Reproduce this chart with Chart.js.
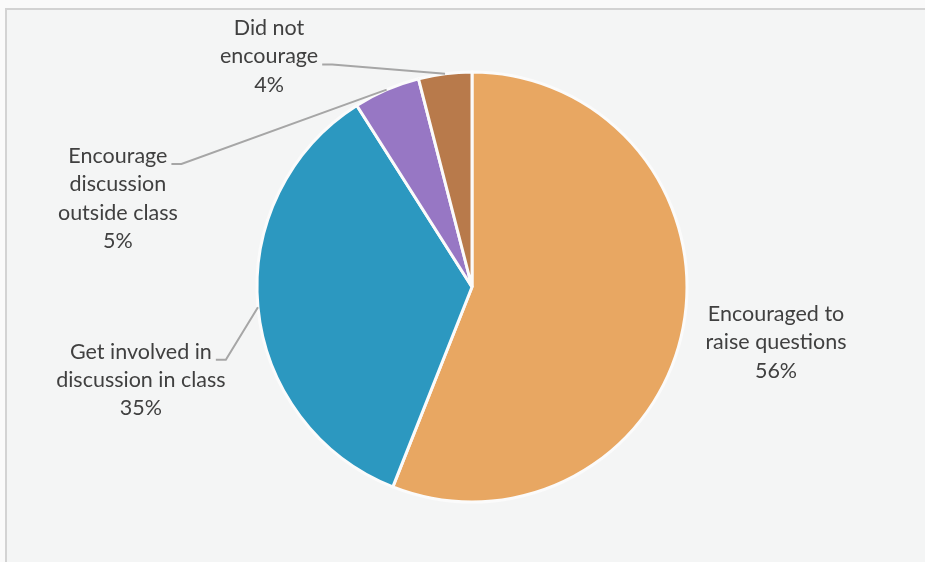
<!DOCTYPE html>
<html><head><meta charset="utf-8">
<script src="https://cdn.jsdelivr.net/npm/chart.js@4.4.1/dist/chart.umd.min.js"></script>
<style>
html,body{margin:0;padding:0;background:#fafafa;overflow:hidden;}
#frame{position:absolute;left:5px;top:8px;width:930px;height:570px;border-left:2px solid #d3d3d3;border-top:2px solid #d3d3d3;background:#f4f5f5;}
#wrap{position:absolute;left:0;top:0;width:925px;height:562px;}
</style></head><body>
<div id="frame"></div>
<div id="wrap"><canvas id="c" width="925" height="562"></canvas></div>
<script>
// Data
const categories = ["Encouraged to raise questions", "Get involved in discussion in class", "Encourage discussion outside class", "Did not encourage"];
const labelLines = [["Encouraged to", "raise questions"], ["Get involved in", "discussion in class"], ["Encourage", "discussion", "outside class"], ["Did not", "encourage"]];
const values = [56, 35, 5, 4];
const percentLabels = ["56%", "35%", "5%", "4%"];
const colors = ["#E8A762", "#2C98C0", "#9777C4", "#B87A4B"];

// Label placement (relative to pie center, in units of the radius)
const labelPlacement = [
  { dx: 1.414, dy: 0.258, leaderLine: -1 },
  { dx: -1.54, dy: 0.433, leaderLine: 0 },
  { dx: -1.647, dy: -0.412, leaderLine: 0 },
  { dx: -0.944, dy: -1.072, leaderLine: 1 }
];

const FONT = '21.5px Lato, "Open Sans", sans-serif';
const LINE_H = 28.3;

const labelPlugin = {
  id: 'outLabels',
  afterDatasetsDraw(chart) {
    const ctx = chart.ctx;
    const meta = chart.getDatasetMeta(0);
    ctx.save();
    ctx.font = FONT;
    ctx.textAlign = 'center';
    ctx.textBaseline = 'middle';
    meta.data.forEach((arc, i) => {
      const p = arc.getProps(['x', 'y', 'startAngle', 'endAngle', 'outerRadius'], true);
      const r = p.outerRadius;
      const mid = (p.startAngle + p.endAngle) / 2;
      const pl = labelPlacement[i];
      const cx = p.x + pl.dx * r;
      const cy = p.y + pl.dy * r;
      const lines = labelLines[i].concat([percentLabels[i]]);
      const top = cy - (lines.length - 1) * LINE_H / 2;
      ctx.fillStyle = '#404040';
      lines.forEach((t, k) => ctx.fillText(t, cx, top + k * LINE_H));
      if (pl.leaderLine >= 0) {
        const t = lines[pl.leaderLine];
        const w = ctx.measureText(t).width;
        const sx = cx + w / 2 + 4;
        const sy = top + pl.leaderLine * LINE_H + 8;
        const ex = p.x + Math.cos(mid) * r;
        const ey = p.y + Math.sin(mid) * r;
        ctx.strokeStyle = '#a6a6a6';
        ctx.lineWidth = 2;
        ctx.beginPath();
        ctx.moveTo(sx, sy);
        ctx.lineTo(sx + 10, sy);
        ctx.lineTo(ex, ey);
        ctx.stroke();
      }
    });
    ctx.restore();
  }
};

new Chart(document.getElementById('c'), {
  type: 'pie',
  data: {
    labels: categories,
    datasets: [{
      data: values,
      backgroundColor: colors,
      borderColor: '#fbfbfb',
      borderWidth: 3,
      hoverOffset: 0
    }]
  },
  options: {
    responsive: false,
    animation: false,
    layout: { padding: { left: 200, right: 181, top: 70.5, bottom: 58.5 } },
    plugins: { legend: { display: false }, tooltip: { enabled: false } }
  },
  plugins: [labelPlugin]
});
</script>
</body></html>
